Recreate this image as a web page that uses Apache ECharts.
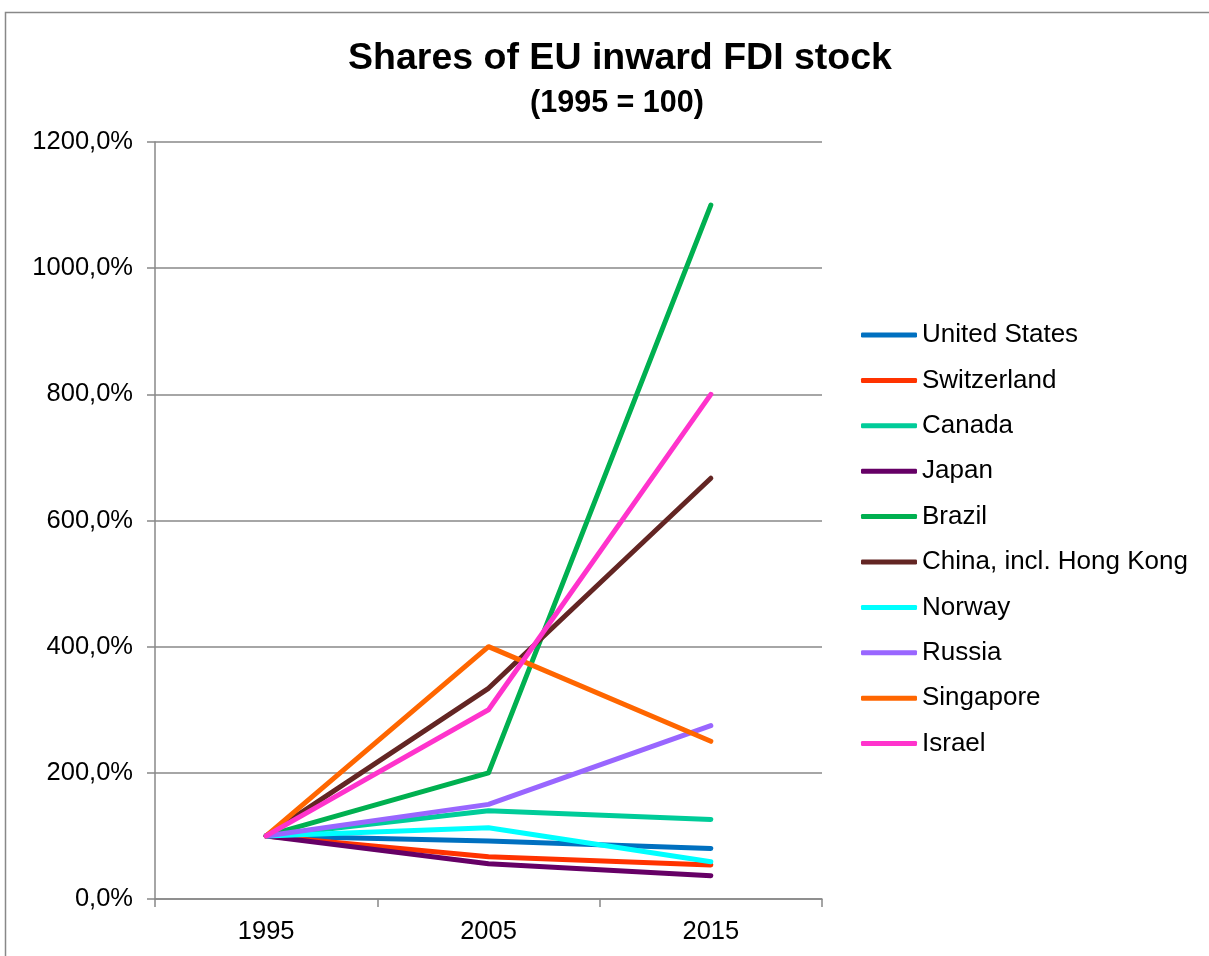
<!DOCTYPE html>
<html>
<head>
<meta charset="utf-8">
<script src="https://cdn.jsdelivr.net/npm/echarts@6/dist/echarts.min.js"></script>
<style>html,body{margin:0;padding:0;background:#fff;}#c{width:1209px;height:956px;}</style>
</head>
<body>
<div id="c"></div>
<script>
const categories = ['1995', '2005', '2015'];
const seriesNames = ['United States', 'Switzerland', 'Canada', 'Japan', 'Brazil', 'China, incl. Hong Kong', 'Norway', 'Russia', 'Singapore', 'Israel'];
const unitedStates = [100, 92, 80];
const switzerland = [100, 67, 54];
const canada = [100, 140, 126];
const japan = [100, 56, 37];
const brazil = [100, 200, 1100];
const china = [100, 334, 667];
const norway = [100, 113, 59];
const russia = [100, 150, 275];
const singapore = [100, 400, 250];
const israel = [100, 300, 800];
const yTicks = [0, 200, 400, 600, 800, 1000, 1200];
const colors = ['#0070C0', '#FF3300', '#00CC99', '#660066', '#00B050', '#632523', '#00FFFF', '#9966FF', '#FF6600', '#FF33CC'];

const allData = [unitedStates, switzerland, canada, japan, brazil, china, norway, russia, singapore, israel];
const font = 'Arial, "Liberation Sans", sans-serif';

const chart = echarts.init(document.getElementById('c'), null, {renderer: 'canvas'});
chart.setOption({
  animation: false,
  backgroundColor: '#fff',
  color: colors,
  graphic: [{
    type: 'rect', shape: {x: 5.5, y: 12.5, width: 1300, height: 1000},
    style: {fill: 'none', stroke: '#888', lineWidth: 1.5}, silent: true
  }],
  title: [{
    text: 'Shares of EU inward FDI stock',
    left: 615, top: 35, textAlign: 'center',
    textStyle: {fontFamily: font, fontWeight: 'bold', fontSize: 37.5, color: '#000'}
  }, {
    text: '(1995 = 100)',
    left: 612, top: 83, textAlign: 'center',
    textStyle: {fontFamily: font, fontWeight: 'bold', fontSize: 30.5, color: '#000'}
  }],
  legend: {
    orient: 'vertical', left: 856, top: 317,
    itemWidth: 56, itemHeight: 5, itemGap: 19.4,
    icon: 'roundRect',
    textStyle: {fontFamily: font, fontSize: 26, color: '#000', lineHeight: 26},
    data: seriesNames
  },
  grid: {left: 155, right: 387, top: 142, bottom: 57, containLabel: false},
  xAxis: {
    type: 'category', data: categories, boundaryGap: true,
    axisLine: {lineStyle: {color: '#888', width: 1.5}},
    axisTick: {show: true, length: 8, alignWithLabel: false, lineStyle: {color: '#888', width: 1.5}},
    axisLabel: {fontFamily: font, fontSize: 25.5, color: '#000', margin: 20},
    splitLine: {show: false}
  },
  yAxis: {
    type: 'value', min: yTicks[0], max: yTicks[yTicks.length - 1], interval: yTicks[1] - yTicks[0],
    axisLine: {show: true, lineStyle: {color: '#888', width: 1.5}},
    axisTick: {show: true, length: 8, lineStyle: {color: '#888', width: 1.5}},
    axisLabel: {fontFamily: font, fontSize: 25.5, color: '#000', margin: 22,
      formatter: v => v.toFixed(1).replace('.', ',') + '%'},
    splitLine: {show: true, lineStyle: {color: '#888', width: 1.5}}
  },
  series: seriesNames.map((n, i) => ({
    name: n, type: 'line', data: allData[i],
    showSymbol: false, symbol: 'none',
    lineStyle: {width: 5, color: colors[i], cap: 'round', join: 'round'},
    itemStyle: {color: colors[i]}
  }))
});
</script>
</body>
</html>
